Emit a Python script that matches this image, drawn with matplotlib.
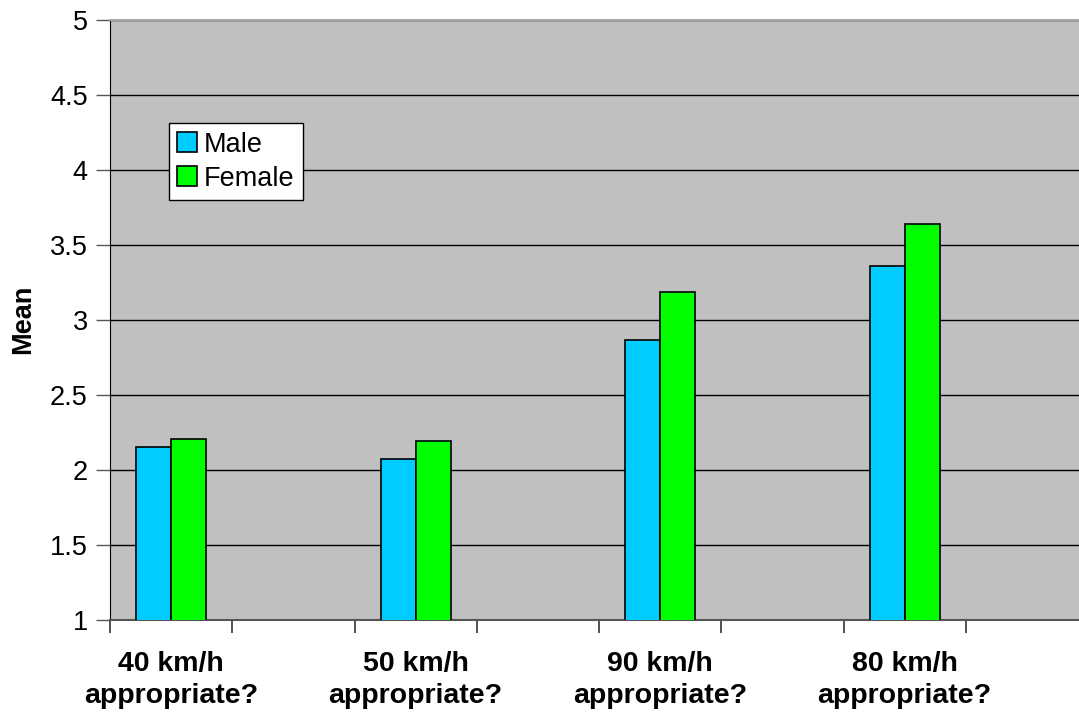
import numpy as np
import matplotlib.pyplot as plt

plt.rcParams['font.family'] = ['Liberation Sans', 'DejaVu Sans']

# data
categories = ['40 km/h\nappropriate?', '', '50 km/h\nappropriate?', '',
              '90 km/h\nappropriate?', '', '80 km/h\nappropriate?', '']
male = [2.155, np.nan, 2.075, np.nan, 2.865, np.nan, 3.355, np.nan]
female = [2.205, np.nan, 2.195, np.nan, 3.185, np.nan, 3.635, np.nan]
yticks = [1, 1.5, 2, 2.5, 3, 3.5, 4, 4.5, 5]
ytick_labels = ['1', '1.5', '2', '2.5', '3', '3.5', '4', '4.5', '5']

fig = plt.figure(figsize=(10.79, 7.13), dpi=100)
ax = fig.add_axes([110 / 1079, 93 / 713, 978 / 1079, 600.5 / 713])
ax.set_facecolor('#C0C0C0')

x = np.arange(len(categories))
w = 0.286
ax.bar(x - w / 2, male, w, color='#00CCFF', edgecolor='black', linewidth=1.2,
       label='Male', zorder=3)
ax.bar(x + w / 2, female, w, color='#00FF00', edgecolor='black', linewidth=1.2,
       label='Female', zorder=3)

ax.set_ylim(1, 5)
ax.set_xlim(-0.5, len(categories) - 0.5)
ax.set_yticks(yticks)
ax.set_yticklabels(ytick_labels, fontsize=19.5)
ax.yaxis.grid(True, color='black', linewidth=1, zorder=1)
ax.set_axisbelow(True)
ax.tick_params(axis='y', length=10, width=1, color='#555555', pad=6)

# boundaries get the tick marks, labels sit on the category centres
ax.set_xticks(np.arange(len(categories) + 1) - 0.5)
ax.set_xticklabels([])
ax.tick_params(axis='x', which='major', length=9, width=1.2, color='#333333')
ax.set_xticks(x, minor=True)
ax.set_xticklabels(categories, minor=True, fontsize=20.5, fontweight='bold',
                   linespacing=1.3)
ax.tick_params(axis='x', which='minor', length=0, pad=22)

ax.set_ylabel('Mean', fontsize=19.5, fontweight='bold', labelpad=10)

ax.spines['left'].set_color('black')
ax.spines['bottom'].set_color('#555555')
ax.spines['bottom'].set_linewidth(1.5)
ax.spines['top'].set_color('#A8A8A8')
ax.spines['top'].set_linewidth(1.5)
ax.spines['right'].set_visible(False)

leg = ax.legend(loc='upper left', bbox_to_anchor=(0.0603, 0.827), fontsize=19.5,
                frameon=True, fancybox=False, borderaxespad=0, handlelength=0.75,
                handleheight=0.75, handletextpad=0.25, borderpad=0.3,
                labelspacing=0.3)
leg.get_frame().set_edgecolor('black')
leg.get_frame().set_linewidth(1)
leg.get_frame().set_facecolor('white')
leg.get_frame().set_alpha(1)

fig.savefig('out.png', dpi=100)
